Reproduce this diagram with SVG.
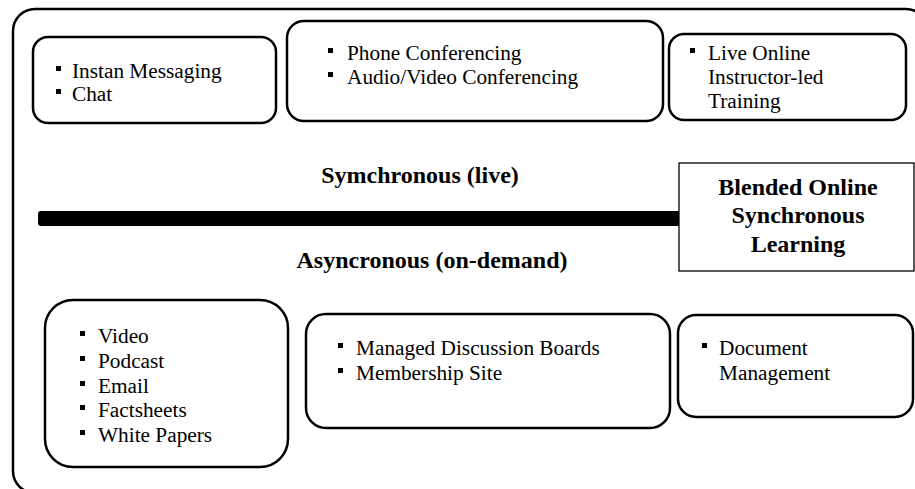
<svg xmlns="http://www.w3.org/2000/svg" width="915" height="489" viewBox="0 0 915 489">
<style>
  .frame{fill:none;stroke:#000;stroke-width:2.5}
  .box{fill:#fff;stroke:#000;stroke-width:2.5}
  .sq{fill:#fff;stroke:#000;stroke-width:1.3}
  .t{font-family:"Liberation Serif","Times New Roman",serif;font-size:21.3px;fill:#000}
  .b{font-family:"Liberation Serif","Times New Roman",serif;font-size:24px;font-weight:bold;fill:#000}
  .bul{fill:#000}
</style>
<defs>
  <rect id="bl" width="5" height="5" class="bul"/>
</defs>
<rect width="915" height="489" fill="#fff"/>
<g id="frame">
  <rect class="frame" x="13" y="9" width="915" height="484" rx="22"/>
</g>
<g id="connectors">
  <rect x="38" y="211" width="645" height="15" rx="3" fill="#000"/>
</g>
<g id="sync-chat">
  <rect class="box" x="33" y="37" width="243" height="86" rx="15"/>
  <use href="#bl" x="56" y="66"/>
  <use href="#bl" x="56" y="89"/>
  <text class="t" x="72" y="78">Instan Messaging</text>
  <text class="t" x="72" y="101">Chat</text>
</g>
<g id="sync-conf">
  <rect class="box" x="287" y="21" width="376" height="100" rx="17"/>
  <use href="#bl" x="328" y="48"/>
  <use href="#bl" x="328" y="72"/>
  <text class="t" x="347" y="60">Phone Conferencing</text>
  <text class="t" x="347" y="84">Audio/Video Conferencing</text>
</g>
<g id="sync-live">
  <rect class="box" x="669" y="34" width="237" height="86" rx="15"/>
  <use href="#bl" x="690" y="48"/>
  <text class="t" x="708" y="60">Live Online</text>
  <text class="t" x="708" y="84">Instructor-led</text>
  <text class="t" x="708" y="108">Training</text>
</g>
<g id="label-sync">
  <text class="b" x="420" y="183" text-anchor="middle">Symchronous (live)</text>
</g>
<g id="label-async">
  <text class="b" x="432" y="268" text-anchor="middle">Asyncronous (on-demand)</text>
</g>
<g id="blended">
  <rect class="sq" x="679" y="163" width="235" height="108"/>
  <text class="b" x="798" y="195" text-anchor="middle">Blended Online</text>
  <text class="b" x="798" y="223" text-anchor="middle">Synchronous</text>
  <text class="b" x="798" y="252" text-anchor="middle">Learning</text>
</g>
<g id="async-media">
  <rect class="box" x="45" y="300" width="243" height="167" rx="28"/>
  <use href="#bl" x="80" y="331"/>
  <use href="#bl" x="80" y="356"/>
  <use href="#bl" x="80" y="381"/>
  <use href="#bl" x="80" y="405"/>
  <use href="#bl" x="80" y="430"/>
  <text class="t" x="98" y="343">Video</text>
  <text class="t" x="98" y="368">Podcast</text>
  <text class="t" x="98" y="393">Email</text>
  <text class="t" x="98" y="417">Factsheets</text>
  <text class="t" x="98" y="442">White Papers</text>
</g>
<g id="async-boards">
  <rect class="box" x="306" y="314" width="364" height="114" rx="20"/>
  <use href="#bl" x="338" y="343"/>
  <use href="#bl" x="338" y="368"/>
  <text class="t" x="356" y="355">Managed Discussion Boards</text>
  <text class="t" x="356" y="380">Membership Site</text>
</g>
<g id="async-docs">
  <rect class="box" x="678" y="315" width="235" height="102" rx="18"/>
  <use href="#bl" x="702" y="343"/>
  <text class="t" x="719" y="355">Document</text>
  <text class="t" x="719" y="380">Management</text>
</g>
</svg>
